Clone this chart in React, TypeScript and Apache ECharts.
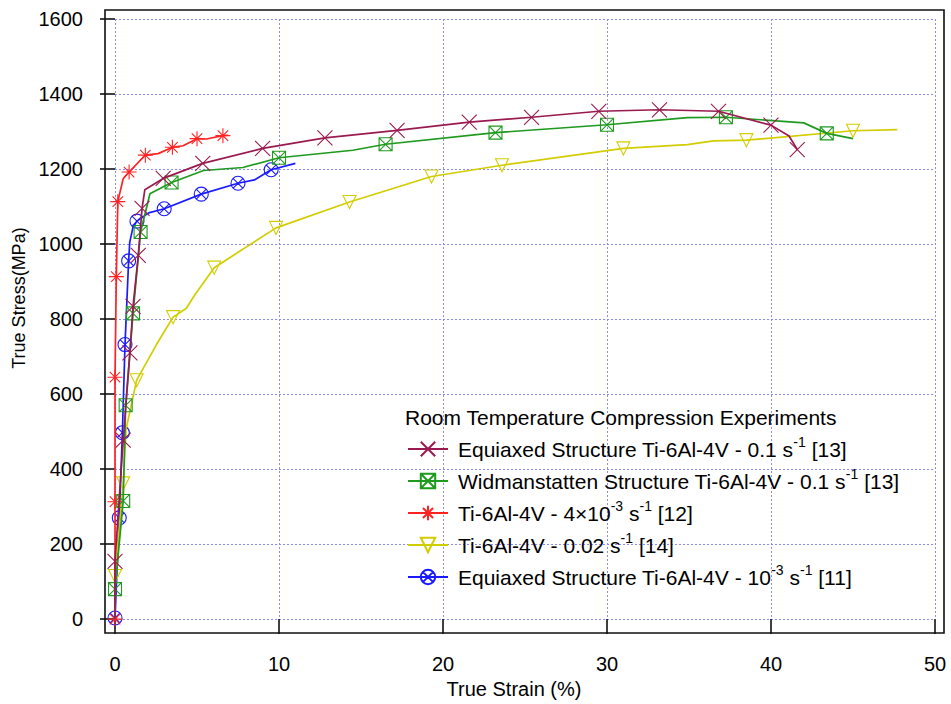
import React, { useEffect, useRef } from "react";
import * as echarts from "echarts";

// ---- data: [strain %, stress MPa, marker(1) / plain vertex(0)] ----
const equiaxed01: number[][] = [
  [0, 0, 0], [0, 154, 1], [0.5, 477, 1], [0.91, 710, 1], [1.1, 834, 1], [1.42, 970, 1],
  [1.65, 1095, 1], [1.82, 1145, 0], [2.94, 1175, 1], [5.35, 1215, 1], [9.0, 1255, 1],
  [12.8, 1283, 1], [17.2, 1303, 1], [21.6, 1325, 1], [25.4, 1338, 1], [29.5, 1354, 1],
  [33.2, 1358, 1], [36.8, 1354, 1], [40.0, 1317, 1], [41.1, 1288, 0], [41.6, 1252, 1],
];
const widman01: number[][] = [
  [0, 0, 0], [0, 80, 1], [0.5, 315, 1], [0.65, 570, 1], [1.1, 815, 1], [1.56, 1032, 1],
  [2.13, 1134, 0], [3.45, 1164, 1], [5.4, 1196, 0], [7.8, 1204, 0], [10.0, 1230, 1],
  [14.5, 1250, 0], [16.5, 1266, 1], [23.2, 1297, 1], [30.0, 1318, 1], [34.9, 1337, 0],
  [37.25, 1338, 1], [42.0, 1323, 0], [43.4, 1295, 1], [45.0, 1281, 0],
];
const ti4e3: number[][] = [
  [0, 0, 1], [0, 313, 1], [0, 645, 1], [0.08, 913, 1], [0.17, 1113, 1], [0.5, 1174, 0],
  [0.86, 1192, 1], [1.85, 1237, 1], [2.63, 1241, 0], [3.5, 1258, 1], [4.15, 1262, 0],
  [5.0, 1281, 1], [5.57, 1280, 0], [6.58, 1289, 1], [6.9, 1290, 0],
];
const ti002: number[][] = [
  [0, 0, 0], [0, 115, 1], [0.5, 362, 1], [0.67, 505, 0], [1.32, 637, 1], [2.53, 732, 0],
  [3.54, 805, 1], [4.35, 829, 0], [4.86, 864, 0], [6.05, 937, 1], [9.82, 1043, 1],
  [14.3, 1112, 1], [19.3, 1180, 1], [23.6, 1210, 1], [31.0, 1255, 1], [34.9, 1265, 0],
  [36.5, 1275, 0], [38.5, 1277, 1], [45.0, 1302, 1], [47.7, 1305, 0],
];
const equiaxed1e3: number[][] = [
  [0, 3, 1], [0.26, 270, 1], [0.45, 497, 1], [0.61, 732, 1], [0.83, 955, 1], [0.9, 1005, 0],
  [1.1, 1045, 0], [1.34, 1061, 1], [2.05, 1083, 0], [3.0, 1094, 1], [5.26, 1133, 1],
  [7.5, 1162, 1], [8.5, 1171, 0], [9.52, 1198, 1], [11.0, 1215, 0],
];

const seriesNames = [
  "Equiaxed Structure Ti-6Al-4V - 0.1 s-1 [13]",
  "Widmanstatten Structure Ti-6Al-4V - 0.1 s-1 [13]",
  "Ti-6Al-4V - 4×10-3 s-1 [12]",
  "Ti-6Al-4V - 0.02 s-1 [14]",
  "Equiaxed Structure Ti-6Al-4V - 10-3 s-1 [11]",
];
const legendLabels = [
  "Equiaxed Structure Ti-6Al-4V - 0.1 s{sup|-1} [13]",
  "Widmanstatten Structure Ti-6Al-4V - 0.1 s{sup|-1} [13]",
  "Ti-6Al-4V - 4×10{sup|-3} s{sup|-1} [12]",
  "Ti-6Al-4V - 0.02 s{sup|-1} [14]",
  "Equiaxed Structure Ti-6Al-4V - 10{sup|-3} s{sup|-1} [11]",
];
const legendTitle = "Room Temperature Compression Experiments";
const xTicks = { min: 0, max: 50, interval: 10 };
const yTicks = { min: 0, max: 1600, interval: 200 };
const xTitle = "True Strain (%)";
const yTitle = "True Stress(MPa)";

const colors = ["#9a1a50", "#1e9a1e", "#ff2222", "#d2cd00", "#1a1aff"];
const symbols = [
  "path://M0,0L10,10M10,0L0,10",
  "path://M0,0L10,0L10,10L0,10ZM0,0L10,10M10,0L0,10",
  "path://M5,0L5,10M0,5L10,5M1.5,1.5L8.5,8.5M8.5,1.5L1.5,8.5",
  "path://M0,0L10,0L5,9Z",
  "path://M5,0A5,5 0 1,1 5,10A5,5 0 1,1 5,0ZM1.6,1.6L8.4,8.4M8.4,1.6L1.6,8.4",
];
const symbolSizes = [15, 13, 15, 13, 14];
const allData = [equiaxed01, widman01, ti4e3, ti002, equiaxed1e3];

const FONT = "'Liberation Sans', Arial, Helvetica, sans-serif";

export default function App() {
  const ref = useRef<HTMLDivElement>(null);
  useEffect(() => {
    document.body.style.margin = "0";
    if (!ref.current) return;
    const chart = echarts.init(ref.current, undefined, { renderer: "svg" });
    const series = allData.map((pts, i) => ({
      type: "line",
      name: seriesNames[i],
      symbol: symbols[i],
      symbolSize: symbolSizes[i],
      showAllSymbol: true,
      clip: false,
      z: 10 - i,
      lineStyle: { color: colors[i], width: 1.7 },
      itemStyle: { color: "rgba(0,0,0,0)", borderColor: colors[i], borderWidth: 1.1 },
      emphasis: { disabled: true },
      data: pts.map((p) =>
        p[2] ? { value: [p[0], p[1]] } : { value: [p[0], p[1]], symbol: "none" }
      ),
    }));
    chart.setOption({
      animation: false,
      backgroundColor: "#fff",
      title: {
        text: legendTitle,
        left: 405,
        top: 405,
        padding: 0,
        textStyle: { fontFamily: FONT, fontSize: 21, fontWeight: "normal", color: "#000", lineHeight: 24 },
      },
      legend: {
        orient: "vertical",
        left: 407,
        top: 435,
        padding: 0,
        itemGap: 4,
        itemWidth: 40,
        itemHeight: 18,
        data: seriesNames,
        formatter: (name: string) => legendLabels[seriesNames.indexOf(name)],
        textStyle: {
          fontFamily: FONT,
          fontSize: 21,
          color: "#000",
          lineHeight: 28,
          padding: [0, 0, 0, 5],
          rich: {
            sup: { fontFamily: FONT, fontSize: 14, color: "#000", lineHeight: 14, verticalAlign: "top" },
          },
        },
      },
      grid: { left: 115, right: 16, top: 19, bottom: 80.3 },
      xAxis: {
        type: "value",
        min: xTicks.min,
        max: xTicks.max,
        interval: xTicks.interval,
        offset: 10,
        name: xTitle,
        nameLocation: "middle",
        nameGap: 45,
        nameTextStyle: { fontFamily: FONT, fontSize: 20, color: "#000", padding: [0, 22, 0, 0] },
        axisLine: { show: false },
        axisTick: { show: true, inside: false, length: 15, lineStyle: { color: "#000", width: 1.5 } },
        axisLabel: { fontFamily: FONT, fontSize: 20, color: "#000", margin: 25, formatter: (v: number) => String(v) },
        splitLine: { show: true, lineStyle: { color: "#8a8aff", width: 1, type: [2, 2] } },
      },
      yAxis: {
        type: "value",
        min: yTicks.min,
        max: yTicks.max,
        interval: yTicks.interval,
        offset: 10,
        name: yTitle,
        nameLocation: "middle",
        nameGap: 74,
        nameTextStyle: { fontFamily: FONT, fontSize: 18, color: "#000", padding: [0, 0, 0, 42] },
        axisLine: { show: false },
        axisTick: { show: true, inside: false, length: 15, lineStyle: { color: "#000", width: 1.5 } },
        axisLabel: { fontFamily: FONT, fontSize: 20, color: "#000", margin: 22, formatter: (v: number) => String(v) },
        splitLine: { show: true, lineStyle: { color: "#8a8aff", width: 1, type: [2, 2] } },
      },
      graphic: [
        {
          type: "rect",
          shape: { x: 105, y: 10, width: 839, height: 623 },
          style: { fill: "none", stroke: "#111", lineWidth: 1.6 },
          silent: true,
          z: 100,
        },
      ],
      series,
    });
    return () => chart.dispose();
  }, []);
  return <div ref={ref} style={{ width: 951, height: 704 }} />;
}
